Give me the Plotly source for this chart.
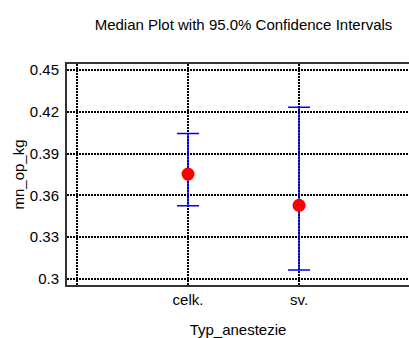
import plotly.graph_objects as go

categories = ["celk.", "sv."]
medians = [0.3753, 0.3529]
upper = [0.4045, 0.4232]
lower = [0.3526, 0.3064]
y_ticks = [0.30, 0.33, 0.36, 0.39, 0.42, 0.45]
y_tick_labels = ["0.3", "0.33", "0.36", "0.39", "0.42", "0.45"]

xpos = list(range(1, len(categories) + 1))
err_plus = [u - m for u, m in zip(upper, medians)]
err_minus = [m - l for m, l in zip(medians, lower)]

FONT = "Liberation Sans, Arial, sans-serif"

fig = go.Figure()
fig.add_trace(go.Scatter(
    x=xpos, y=medians, mode="markers",
    marker=dict(color="#ff0000", size=13, line=dict(width=0)),
    error_y=dict(type="data", symmetric=False, array=err_plus, arrayminus=err_minus,
                 color="#0000ff", thickness=1.5, width=11),
    showlegend=False,
))

grid = dict(gridcolor="black", gridwidth=2, griddash="2px,1px")

fig.update_layout(
    width=409, height=338,
    margin=dict(l=67, r=0, t=64, b=53),
    paper_bgcolor="white", plot_bgcolor="white",
    font=dict(family=FONT, size=15, color="black"),
    title=dict(text="Median Plot with 95.0% Confidence Intervals",
               x=243.5 / 409, xref="container", xanchor="center",
               y=1 - 25 / 338, yref="container", yanchor="middle",
               font=dict(size=15)),
    xaxis=dict(range=[-0.09, 2.99], tickvals=[0] + xpos, ticktext=[""] + categories,
               showgrid=True, **grid, zeroline=False,
               showline=True, linecolor="#333333", linewidth=2, mirror=True,
               ticks="", title=dict(text="Typ_anestezie", standoff=17, font=dict(size=15))),
    yaxis=dict(range=[0.2957, 0.4543], tickvals=y_ticks, ticktext=y_tick_labels,
               showgrid=True, **grid, zeroline=False,
               showline=True, linecolor="#333333", linewidth=2, mirror=False,
               ticks="outside", ticklen=3, tickcolor="rgba(0,0,0,0)",
               title=dict(text="mn_op_kg", standoff=2, font=dict(size=15))),
)

fig.write_html("out.html")
